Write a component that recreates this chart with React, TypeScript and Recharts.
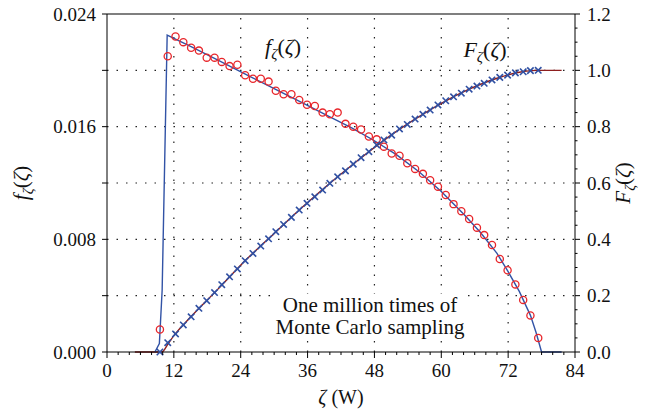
import { ComposedChart, Line, XAxis, YAxis, ReferenceLine } from "recharts";

const serif = '"Liberation Serif", "DejaVu Serif", serif';

// sampling positions (Monte Carlo bins)
const sampleZeta = [
  9.5, 10.9, 12.3, 13.7, 15.1, 16.5, 17.9, 19.3, 20.6, 22.0, 23.4, 24.8, 26.2, 27.6, 29.0, 30.3, 31.7,
  33.1, 34.5, 35.9, 37.3, 38.7, 40.0, 41.4, 42.8, 44.2, 45.6, 47.0, 48.4, 49.7, 51.1, 52.5, 53.9, 55.3,
  56.7, 58.0, 59.4, 60.8, 62.2, 63.6, 65.0, 66.4, 67.7, 69.1, 70.5, 71.9, 73.3, 74.7, 76.0, 77.4,
];
const sampleDensity = [
  0.0016, 0.021, 0.0224, 0.022, 0.0216, 0.0214, 0.0209, 0.0209, 0.0206, 0.0203, 0.0204, 0.01965, 0.0194,
  0.0194, 0.0192, 0.01855, 0.0183, 0.0183, 0.0179, 0.01756, 0.01747, 0.017, 0.01688, 0.017, 0.0162, 0.016,
  0.0158, 0.0153, 0.0151, 0.01458, 0.0141, 0.01394, 0.0134, 0.013, 0.01265, 0.0122, 0.01174, 0.01115,
  0.0105, 0.01, 0.00944, 0.00883, 0.0083, 0.0076, 0.0066, 0.0058, 0.0048, 0.0037, 0.0026, 0.001,
];
const sampleCdf = [
  0.0, 0.033, 0.064, 0.096, 0.125, 0.155, 0.182, 0.211, 0.239, 0.267, 0.295, 0.324, 0.35, 0.376, 0.402,
  0.427, 0.453, 0.478, 0.504, 0.528, 0.551, 0.575, 0.599, 0.622, 0.643, 0.667, 0.69, 0.711, 0.735, 0.753,
  0.77, 0.792, 0.808, 0.827, 0.844, 0.859, 0.877, 0.892, 0.906, 0.919, 0.933, 0.944, 0.954, 0.966, 0.975,
  0.983, 0.991, 0.995, 0.999, 1.0,
];

// theoretical curves
const pdfZeta = [8.6, 9.4, 9.9, 10.8, 15, 20, 25, 30, 35, 40, 44, 48, 52, 56, 60, 64, 67, 70, 72, 74, 76, 77, 78, 81.6];
const pdfValue = [
  0, 0.0006, 0.0044, 0.0225, 0.0217, 0.0207, 0.0197, 0.0187, 0.0177, 0.0167, 0.0159, 0.015, 0.014, 0.0128,
  0.0114, 0.0098, 0.0085, 0.007, 0.0057, 0.0043, 0.0026, 0.0014, 0, 0,
];
const cdfZeta = [5, 9.8, 11, 12, 15, 20, 25, 30, 35, 40, 45, 50, 55, 60, 65, 70, 74, 77, 81.6];
const cdfValue = [0, 0, 0.03, 0.058, 0.124, 0.225, 0.328, 0.421, 0.513, 0.599, 0.68, 0.756, 0.823, 0.883, 0.933, 0.972, 0.993, 1.0, 1.0];

const xTicks = [0, 2, 4, 6, 8, 10, 12, 14, 16, 18, 20, 22, 24, 26, 28, 30, 32, 34, 36, 38, 40, 42, 44, 46, 48, 50, 52, 54, 56, 58, 60, 62, 64, 66, 68, 70, 72, 74, 76, 78, 80, 82, 84];
const leftTicks = [0, 0.004, 0.008, 0.012, 0.016, 0.02, 0.024];
const rightTicks = [0, 0.05, 0.1, 0.15, 0.2, 0.25, 0.3, 0.35, 0.4, 0.45, 0.5, 0.55, 0.6, 0.65, 0.7, 0.75, 0.8, 0.85, 0.9, 0.95, 1.0, 1.05, 1.1, 1.15, 1.2];
const gridX = [12, 24, 36, 48, 60, 72];
const gridY = [0.004, 0.008, 0.012, 0.016, 0.02];

const sampleF = sampleZeta.map((x, i) => ({ x, v: sampleDensity[i] }));
const sampleC = sampleZeta.map((x, i) => ({ x, v: sampleCdf[i] }));
const pdfLine = pdfZeta.map((x, i) => ({ x, v: pdfValue[i] }));
const cdfLine = cdfZeta.map((x, i) => ({ x, v: cdfValue[i] }));

const XTick = (p: any) => {
  const v = p.payload.value;
  const major = v % 12 === 0;
  return (
    <g>
      <line x1={p.x} y1={p.y} x2={p.x} y2={p.y + (major ? 6 : 3)} stroke="#000" strokeWidth={1} />
      {major && (
        <text x={p.x} y={p.y + 25} textAnchor="middle" fontSize={19} fontFamily={serif} fill="#111">
          {v}
        </text>
      )}
    </g>
  );
};

const LeftTick = (p: any) => {
  const v = p.payload.value;
  const major = Math.round(v * 1000) % 8 === 0;
  return (
    <g>
      <line x1={p.x - 5} y1={p.y} x2={p.x} y2={p.y} stroke="#000" />
      {major && (
        <text x={p.x - 11} y={p.y} dy="0.35em" textAnchor="end" fontSize={19} fontFamily={serif} fill="#111">
          {v.toFixed(3)}
        </text>
      )}
    </g>
  );
};

const RightTick = (p: any) => {
  const v = p.payload.value;
  const major = Math.round(v * 100) % 20 === 0;
  return (
    <g>
      <line x1={p.x} y1={p.y} x2={p.x + (major ? 5 : 2.5)} y2={p.y} stroke="#000" />
      {major && (
        <text x={p.x + 12} y={p.y} dy="0.35em" textAnchor="start" fontSize={19} fontFamily={serif} fill="#111">
          {v.toFixed(1)}
        </text>
      )}
    </g>
  );
};

const Circle = (p: any) =>
  p.cx == null ? <g key={p.index} /> : (
    <circle key={p.index} cx={p.cx} cy={p.cy} r={3.6} fill="none" stroke="#e8262b" strokeWidth={1.3} />
  );

const Cross = (p: any) =>
  p.cx == null ? <g key={p.index} /> : (
    <g key={p.index} stroke="#2f50a3" strokeWidth={1.6}>
      <line x1={p.cx - 3.2} y1={p.cy - 3.2} x2={p.cx + 3.2} y2={p.cy + 3.2} />
      <line x1={p.cx - 3.2} y1={p.cy + 3.2} x2={p.cx + 3.2} y2={p.cy - 3.2} />
    </g>
  );

const Func = ({ x, y, big, size, rotate }: { x: number; y: number; big?: boolean; size: number; rotate?: boolean }) => (
  <text
    x={x}
    y={y}
    fontFamily={serif}
    fontSize={size}
    fill="#111"
    textAnchor="middle"
    transform={rotate ? `rotate(-90 ${x} ${y})` : undefined}
  >
    <tspan fontStyle="italic">{big ? "F" : "f"}</tspan>
    <tspan fontStyle="italic" fontSize={size * 0.7} dy={size * 0.22}>ζ</tspan>
    <tspan dy={-size * 0.22}>(</tspan>
    <tspan fontStyle="italic">ζ</tspan>
    <tspan>)</tspan>
  </text>
);

export default function App() {
  return (
    <div style={{ position: "absolute", left: 0, top: 0, width: 661, height: 414, background: "#fff" }}>
      <ComposedChart width={661} height={414} margin={{ top: 14, right: 0, left: 0, bottom: 0 }}>
        <XAxis
          type="number"
          dataKey="x"
          domain={[0, 84]}
          ticks={xTicks}
          interval={0}
          tickSize={0}
          tickMargin={0}
          tick={<XTick />}
          height={62}
          stroke="#000"
          allowDuplicatedCategory={false}
        />
        <YAxis
          yAxisId="left"
          type="number"
          domain={[0, 0.024]}
          ticks={leftTicks}
          interval={0}
          tickSize={0}
          tickMargin={0}
          tick={<LeftTick />}
          width={107}
          stroke="#000"
        />
        <YAxis
          yAxisId="right"
          orientation="right"
          type="number"
          domain={[0, 1.2]}
          ticks={rightTicks}
          interval={0}
          tickSize={0}
          tickMargin={0}
          tick={<RightTick />}
          width={86}
          stroke="#000"
        />
        {gridX.map((g) => (
          <ReferenceLine key={"gx" + g} x={g} yAxisId="left" stroke="#222" strokeDasharray="1.5 8" strokeWidth={1.2} />
        ))}
        {gridY.map((g) => (
          <ReferenceLine key={"gy" + g} y={g} yAxisId="left" stroke="#222" strokeDasharray="1.5 8" strokeWidth={1.2} />
        ))}
        <ReferenceLine y={0.024} yAxisId="left" stroke="#000" strokeWidth={1.2} />
        <Line
          data={cdfLine}
          dataKey="v"
          yAxisId="right"
          type="monotone"
          stroke="#8e1f1f"
          strokeWidth={1.4}
          dot={false}
          isAnimationActive={false}
        />
        <Line
          data={pdfLine}
          dataKey="v"
          yAxisId="left"
          type="linear"
          stroke="#3253a6"
          strokeWidth={1.4}
          dot={false}
          isAnimationActive={false}
        />
        <Line
          data={sampleF}
          dataKey="v"
          yAxisId="left"
          stroke="none"
          dot={Circle}
          isAnimationActive={false}
        />
        <Line
          data={sampleC}
          dataKey="v"
          yAxisId="right"
          stroke="none"
          dot={Cross}
          isAnimationActive={false}
        />
      </ComposedChart>
      <svg width={661} height={414} style={{ position: "absolute", left: 0, top: 0, pointerEvents: "none" }}>
        <Func x={283} y={54} size={22} />
        <Func x={485} y={57} size={22} big />
        <Func x={28} y={183} size={21} rotate />
        <Func x={630} y={183} size={21} big rotate />
        <rect x={276} y={294} width={190} height={44} fill="#fff" />
        <text x={370} y={312} textAnchor="middle" fontFamily={serif} fontSize={21} fill="#111">
          One million times of
        </text>
        <text x={370} y={334} textAnchor="middle" fontFamily={serif} fontSize={21} fill="#111">
          Monte Carlo sampling
        </text>
        <text x={341} y={404} textAnchor="middle" fontFamily={serif} fontSize={20} fill="#111">
          <tspan fontStyle="italic">ζ</tspan> (W)
        </text>
      </svg>
    </div>
  );
}
